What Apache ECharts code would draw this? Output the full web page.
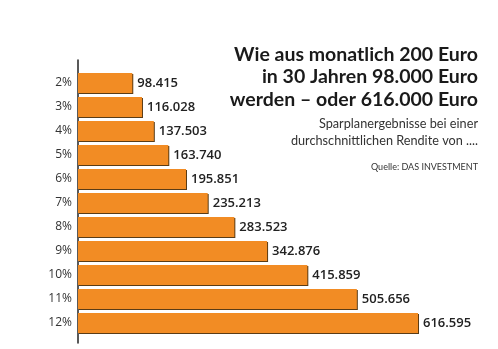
<!DOCTYPE html>
<html><head><meta charset="utf-8">
<script src="https://cdn.jsdelivr.net/npm/echarts@6/dist/echarts.min.js"></script>
<style>html,body{margin:0;padding:0;background:#fff}#c{width:498px;height:349px}</style>
</head><body><div id="c"></div>
<script>
const categories = ['2%','3%','4%','5%','6%','7%','8%','9%','10%','11%','12%'];
const values = [98415,116028,137503,163740,195851,235213,283523,342876,415859,505656,616595];
const titleText = 'Wie aus monatlich 200 Euro\nin 30 Jahren 98.000 Euro\nwerden – oder 616.000 Euro';
const subText = 'Sparplanergebnisse bei einer\ndurchschnittlichen Rendite von ....';
const sourceText = 'Quelle: DAS INVESTMENT';

function fmt(v){ return String(v).replace(/\B(?=(\d{3})+(?!\d))/g,'.'); }

const chart = echarts.init(document.getElementById('c'), null, {renderer:'canvas'});
chart.setOption({
  animation:false,
  backgroundColor:'#fff',
  graphic:[
    {type:'text', x:478, y:43, style:{text:titleText, align:'right', verticalAlign:'top',
      fontFamily:'Lato', fontWeight:'bold', fontSize:19.5, lineHeight:22.5, fill:'#1a1a1a'}},
    {type:'text', x:478, y:115, style:{text:subText, align:'right', verticalAlign:'top',
      fontFamily:'Lato', fontWeight:'normal', fontSize:12.7, lineHeight:17, fill:'#333'}},
    {type:'text', x:478, y:161, style:{text:sourceText, align:'right', verticalAlign:'top',
      fontFamily:'Lato', fontWeight:'normal', fontSize:9, lineHeight:12, fill:'#333'}}
  ],
  grid:[
    {left:78, top:71, width:386, height:264},
    {left:78, top:60, width:386, height:283}
  ],
  xAxis:[
    {gridIndex:0, type:'value', min:0, max:700000, show:false},
    {gridIndex:1, type:'value', min:0, max:1, show:false}
  ],
  yAxis:[
    {gridIndex:0, type:'category', data:categories, inverse:true,
     axisLine:{show:false}, axisTick:{show:false},
     axisLabel:{fontFamily:'Open Sans', fontSize:12, color:'#333', margin:6}},
    {gridIndex:1, type:'value', min:0, max:1,
     axisLine:{show:true, lineStyle:{color:'#222', width:1.5}},
     axisTick:{show:false}, axisLabel:{show:false}, splitLine:{show:false}}
  ],
  series:[{
    type:'bar', xAxisIndex:0, yAxisIndex:0, data:values, barWidth:20,
    itemStyle:{color:'#F28C24', shadowColor:'#5a3c16', shadowOffsetX:1, shadowOffsetY:1, shadowBlur:0},
    label:{show:true, position:'right', distance:5, formatter:p=>fmt(p.value),
      fontFamily:'Open Sans', fontWeight:600, fontSize:13, color:'#222'}
  }]
});
</script></body></html>
